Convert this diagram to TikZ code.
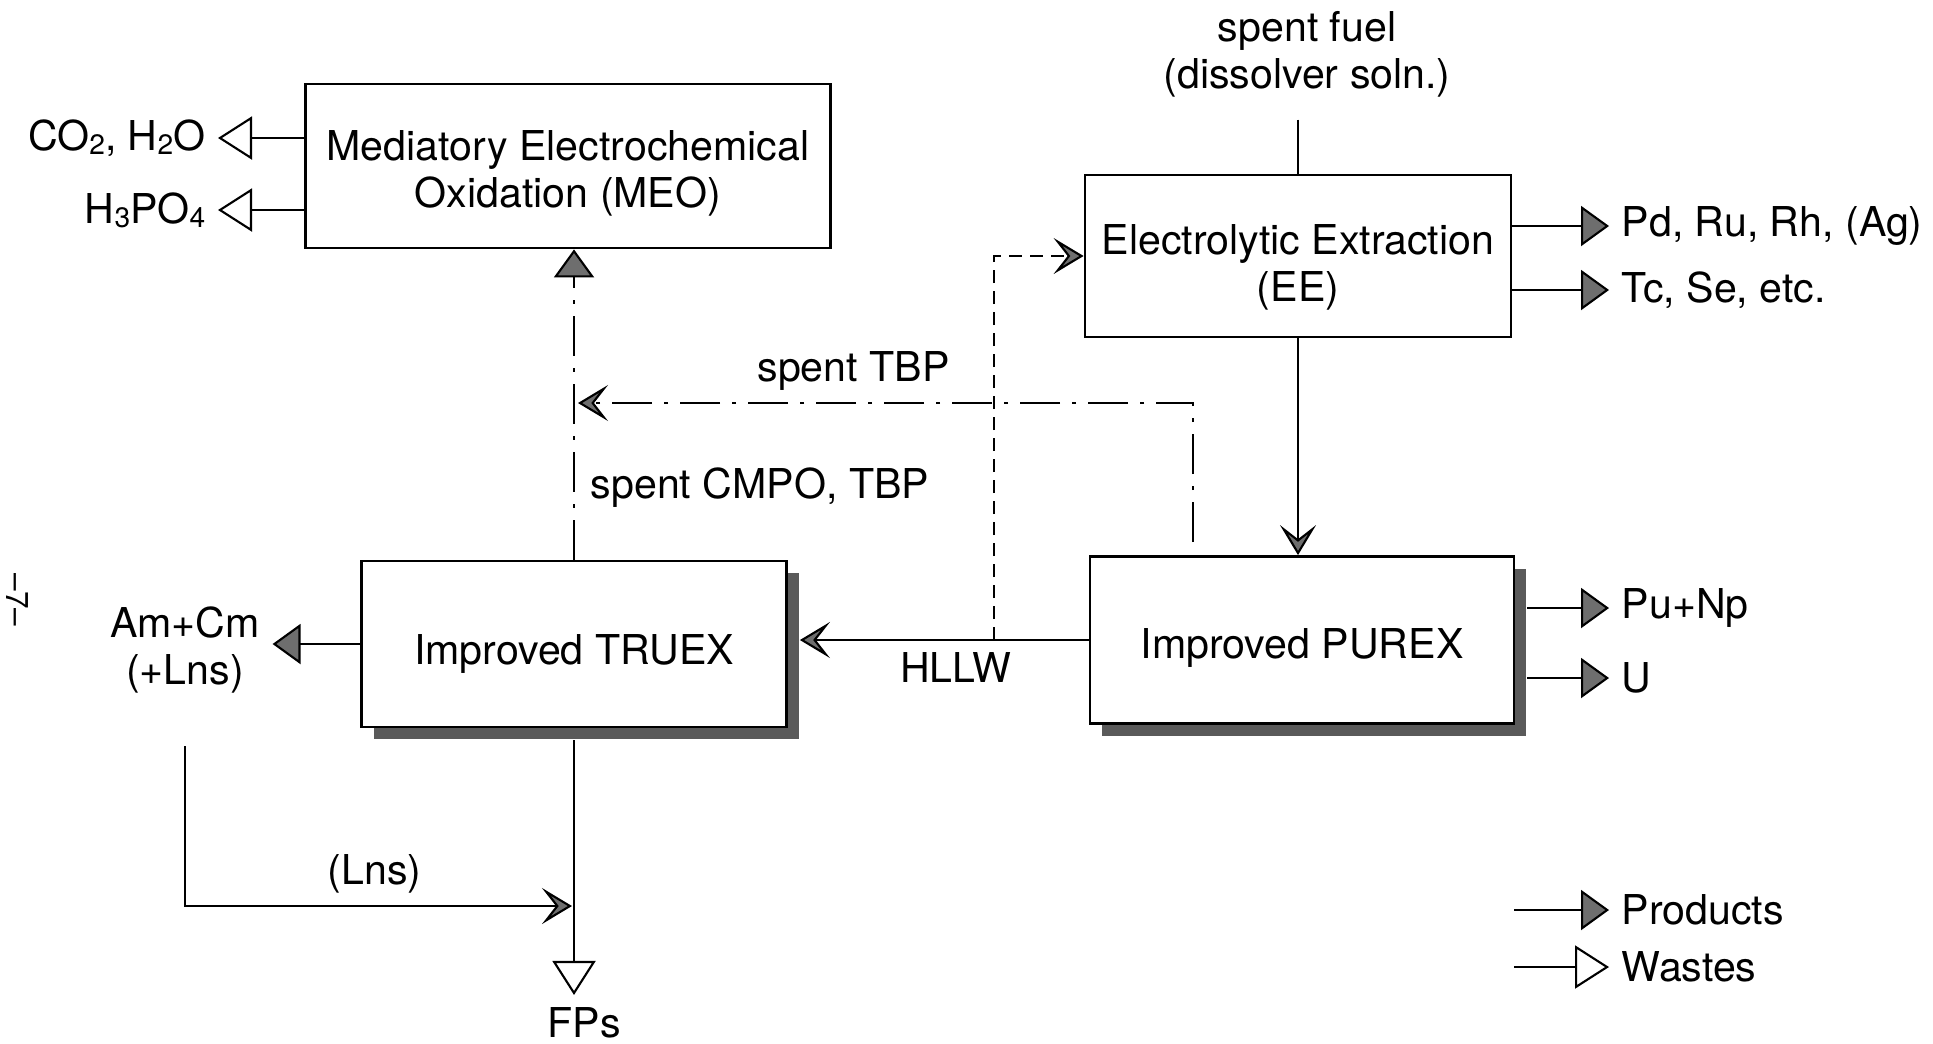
\documentclass[tikz,border=0pt]{standalone}
\usepackage{fontspec}
\setmainfont{TeX Gyre Heros}
\usepackage{tikz}
\usetikzlibrary{arrows.meta, shadows}
\definecolor{tipgray}{RGB}{110, 110, 110}
\definecolor{shadegray}{RGB}{90, 90, 90}
\newcommand{\chemsub}[1]{\raisebox{-0.2ex}{\footnotesize #1}}
\newcommand{\boxtext}[2][1.4mm]{\rule{0pt}{\dimexpr 8.6pt+#1\relax}#2}

\begin{document}
\begin{tikzpicture}[x=0.1mm, y=-0.1mm, line width=0.6pt,
    every node/.style={font=\fontsize{11.7}{13.4}\selectfont},
    procbox/.style={draw, line width=0.8pt, fill=white, align=center, inner sep=0pt},
    shadowed/.style={drop shadow={shadow xshift=1.2mm, shadow yshift=-1.2mm, fill=shadegray, opacity=1}},
    flow/.style={-{Stealth[length=3mm, width=3.6mm, inset=1.4mm, fill=tipgray]}},
    product/.style={-{Triangle[length=2.8mm, width=4mm, fill=tipgray]}},
    waste/.style={-{Triangle[open, length=3.4mm, width=4.3mm, fill=white]}},
    tbpline/.style={dash pattern=on 4mm off 1.2mm on 0.4mm off 1.2mm},
    eeline/.style={dash pattern=on 1.3mm off 0.8mm}]
    \useasboundingbox (0,0) rectangle (1933,1043);
    % process boxes
    \node[procbox, minimum width=52.5mm, minimum height=16.4mm] (meo) at (568,166) {\boxtext{Mediatory Electrochemical\\Oxidation (MEO)}};
    \node[procbox, minimum width=42.6mm, minimum height=16.2mm] (ee) at (1298,256) {\boxtext[2.2mm]{Electrolytic Extraction\\(EE)}};
    \node[procbox, shadowed, minimum width=42.4mm, minimum height=16.7mm] (purex) at (1302,640) {\boxtext[1.5mm]{Improved PUREX}};
    \node[procbox, shadowed, minimum width=42.5mm, minimum height=16.6mm] (truex) at (574,644) {\boxtext[2mm]{Improved TRUEX}};
    % streams in and out
    \node[align=center] (fuel) at (1307,54) {spent fuel\\(dissolver soln.)};
    \node[anchor=west] (pd) at (1609,226) {Pd, Ru, Rh, (Ag)};
    \node[anchor=west] (tc) at (1609,290) {Tc, Se, etc.};
    \node[anchor=west] (punp) at (1609,608) {Pu+Np};
    \node[anchor=west] (u) at (1609,678) {U};
    \node[anchor=east] (co2) at (218,138) {CO\chemsub{2}, H\chemsub{2}O};
    \node[anchor=east] (h3po4) at (218,210) {H\chemsub{3}PO\chemsub{4}};
    \node[align=center] (amcm) at (185,650) {Am+Cm\\(+Lns)};
    \node (fps) at (584,1023) {FPs};
    \node[anchor=west] (cmpo) at (578,488) {spent CMPO, TBP};
    \node[rotate=-90, font=\fontsize{9}{10}\selectfont] (pagenum) at (17,600) {\textendash 7\textendash};
    % legend
    \node[anchor=west] (legprod) at (1609,910) {Products};
    \node[anchor=west] (legwaste) at (1609,967) {Wastes};
    \coordinate (legprodstart) at (1514,910);
    \coordinate (legwastestart) at (1514,967);
    % helper points
    \coordinate (truexedge) at ([xshift=1.2mm]truex.east);
    \coordinate (purexedge) at ([xshift=1.2mm]purex.east);
    \coordinate (hllwsplit) at (994,640);
    \coordinate (tbpstart) at (1193,542);
    \coordinate (tbpend) at (578,403);
    \coordinate (lnsjoin) at (572,906);

    \draw[shorten <=1mm] (ee.north |- fuel.south) -- (ee.north);
    \draw[product] (ee.east |- pd.west) -- (pd.west);
    \draw[product] (ee.east |- tc.west) -- (tc.west);
    \draw[flow] (ee.south) -- (ee.south |- purex.north);
    \draw[product] (purexedge |- punp.west) -- (punp.west);
    \draw[product] (purexedge |- u.west) -- (u.west);
    \draw[flow] (purex.west) -- node[below, pos=0.46] (hllw) {HLLW} (truexedge |- purex.west);
    \draw[flow, eeline] (hllwsplit) |- (ee.west);
    \draw[flow, tbpline] (tbpstart) |- node[above, pos=0.776] (tbp) {spent TBP} (tbpend);
    \draw[product, tbpline] (truex.north) -- (truex.north |- meo.south);
    \draw[waste] (meo.west |- co2.east) -- (co2.east);
    \draw[waste] (meo.west |- h3po4.east) -- (h3po4.east);
    \draw[product] (truex.west) -- (truex.west -| amcm.east);
    \draw[flow] ([yshift=-4mm]amcm.south) |- node[above, pos=0.745] (lns) {(Lns)} (lnsjoin);
    \draw[waste] ([yshift=-1.2mm]truex.south) -- (truex.south |- fps.north);
    \draw[product] (legprodstart) -- (legprod.west);
    \draw[waste] (legwastestart) -- (legwaste.west);
\end{tikzpicture}
\end{document}
